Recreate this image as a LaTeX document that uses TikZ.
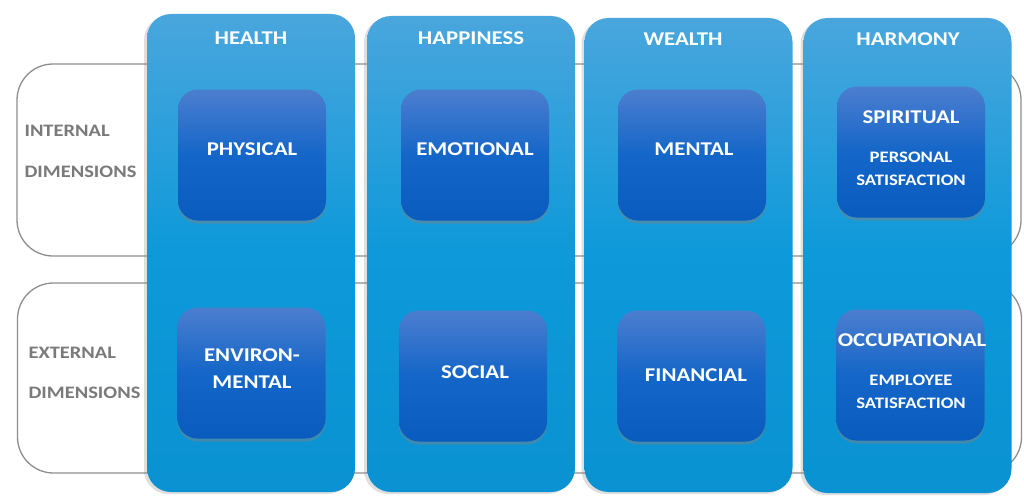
\documentclass[tikz,border=0pt]{standalone}
\usepackage{fontspec}
\setmainfont{Carlito}[FakeStretch=1.17]
\usetikzlibrary{shadows}
\definecolor{colTop}{HTML}{4AA6DD}
\definecolor{colMid}{HTML}{0D99DA}
\definecolor{colBot}{HTML}{0A92D2}
\definecolor{boxTop}{HTML}{4C7ECF}
\definecolor{boxMid}{HTML}{1466C8}
\definecolor{boxBot}{HTML}{0A5BBE}
\definecolor{rowGray}{HTML}{8E8E8E}
\definecolor{sideGray}{HTML}{7A7A7A}
\tikzset{
 rowbox/.style={draw=rowGray, line width=1.3pt, fill=white, rounded corners=36pt,
   minimum width=1004pt},
 column/.style={rounded corners=24pt, top color=colTop, bottom color=colBot, middle color=colMid,
   minimum width=208pt, minimum height=476pt,
   drop shadow={shadow xshift=-3pt, shadow yshift=-2pt, opacity=0.25}},
 dimbox/.style={rounded corners=20pt, top color=boxTop, bottom color=boxBot, middle color=boxMid,
   minimum width=148pt, minimum height=131pt,
   drop shadow={shadow xshift=0pt, shadow yshift=-3pt, opacity=0.45}},
 head/.style={text=white, font=\bfseries\fontsize{19.5}{22}\selectfont},
 dimtext/.style={text=white, align=center, font=\bfseries\fontsize{19.5}{27}\selectfont},
 subtext/.style={text=white, align=center, font=\bfseries\fontsize{16}{23}\selectfont},
 sidetext/.style={text=sideGray, anchor=west, font=\bfseries\fontsize{17.5}{20}\selectfont}
}
\begin{document}
\begin{tikzpicture}[x=1pt,y=-1pt]
 \useasboundingbox (0,0) rectangle (1024,495);
 % rows
 \node[rowbox, minimum height=192pt] (internal) at (519,160) {};
 \node[rowbox, minimum height=190pt] (external) at (519.5,378) {};
 \node[sidetext] (intA) at (21,131) {INTERNAL};
 \node[sidetext] (intB) at (21,172) {DIMENSIONS};
 \node[sidetext] (extA) at (25,353) {EXTERNAL};
 \node[sidetext] (extB) at (25,393) {DIMENSIONS};
 % columns
 \node[column, minimum height=478pt] (health) at (251,253) {};
 \node[column] (happiness) at (471,254) {};
 \node[column, minimum height=474pt] (wealth) at (688.5,255) {};
 \node[column, minimum height=475pt] (harmony) at (907.5,255.5) {};
 \node[head] (healthT) at (251,38) {HEALTH};
 \node[head] (happinessT) at (471,38) {HAPPINESS};
 \node[head] (wealthT) at (683,39) {WEALTH};
 \node[head] (harmonyT) at (908,39) {HARMONY};
 % internal dimensions
 \node[dimbox] (physical) at (252,155) {};
 \node[dimbox] (emotional) at (475,155) {};
 \node[dimbox] (mental) at (692,155) {};
 \node[dimbox] (spiritual) at (911,152) {};
 \node[dimtext] (physicalT) at (252,149) {PHYSICAL};
 \node[dimtext] (emotionalT) at (475,149) {EMOTIONAL};
 \node[dimtext] (mentalT) at (694,149) {MENTAL};
 \node[dimtext] (spiritualT) at (911,117) {SPIRITUAL};
 \node[subtext] (personalT) at (911,169) {PERSONAL\\SATISFACTION};
 % external dimensions
 \node[dimbox] (environ) at (251.5,373) {};
 \node[dimbox] (social) at (473,376) {};
 \node[dimbox] (financial) at (691.5,376) {};
 \node[dimbox] (occupational) at (910.5,375) {};
 \node[dimtext] (environT) at (252,369) {ENVIRON-\\MENTAL};
 \node[dimtext] (socialT) at (475,372) {SOCIAL};
 \node[dimtext] (financialT) at (696,375) {FINANCIAL};
 \node[dimtext] (occupationalT) at (912,340) {OCCUPATIONAL};
 \node[subtext] (employeeT) at (911,392) {EMPLOYEE\\SATISFACTION};
\end{tikzpicture}
\end{document}
